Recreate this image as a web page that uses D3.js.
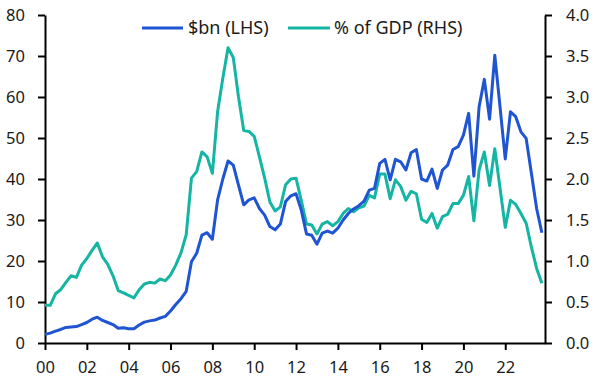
<!DOCTYPE html>
<html>
<head>
<meta charset="utf-8">
<script src="https://cdn.jsdelivr.net/npm/d3@7"></script>
<style>
  body { margin: 0; background: #fff; }
  svg { display: block; }
  text { font-family: "Noto Sans", "Open Sans", sans-serif; fill: #1a1a1a; }
</style>
</head>
<body>
<svg id="chart" width="597" height="382"></svg>
<script>
// Quarterly observations, first at 2000.0, step 0.25 year
const startYear = 2000;
const usdBn = [2.1, 2.4, 2.9, 3.3, 3.8, 3.9, 4.0, 4.5, 5.0, 5.8, 6.3, 5.5, 5.0, 4.5, 3.6, 3.7, 3.5, 3.5, 4.4, 5.1, 5.4, 5.6, 6.1, 6.5, 7.8,
  9.4, 10.8, 12.6, 19.8, 21.9, 26.3, 26.9, 25.3, 34.9, 40.0, 44.4, 43.4, 38.5, 33.7, 34.9, 35.4, 32.8, 31.2, 28.4, 27.6, 29.0, 34.5, 35.9, 36.4,
  32.4, 26.6, 26.3, 24.1, 26.8, 27.3, 26.8, 28.0, 30.0, 31.6, 32.7, 33.5, 34.6, 37.3, 37.7, 43.8, 44.8, 39.8, 44.8, 44.2, 42.2, 46.4, 47.2,
  40.0, 39.5, 42.4, 37.7, 42.2, 43.4, 47.2, 47.9, 50.7, 56.0, 40.7, 57.6, 64.3, 54.6, 70.2, 57.6, 44.9, 56.4, 55.2, 51.5, 49.9, 41.4, 32.8, 26.9];
const pctGdp = [0.46, 0.46, 0.60, 0.65, 0.74, 0.82, 0.80, 0.95, 1.03, 1.13, 1.22, 1.05, 0.96, 0.82, 0.64, 0.61, 0.58, 0.55, 0.65, 0.72, 0.74, 0.73, 0.78, 0.76, 0.83,
  0.95, 1.10, 1.32, 2.01, 2.09, 2.33, 2.27, 2.07, 2.82, 3.23, 3.60, 3.48, 3.00, 2.59, 2.58, 2.52, 2.27, 2.01, 1.72, 1.61, 1.66, 1.93, 2.00, 2.01,
  1.74, 1.45, 1.44, 1.33, 1.45, 1.48, 1.43, 1.48, 1.58, 1.64, 1.60, 1.65, 1.67, 1.80, 1.77, 2.06, 2.06, 1.76, 1.99, 1.91, 1.74, 1.85, 1.82,
  1.51, 1.47, 1.58, 1.40, 1.54, 1.57, 1.70, 1.70, 1.80, 2.03, 1.49, 2.11, 2.33, 1.92, 2.37, 1.89, 1.41, 1.74, 1.69, 1.58, 1.46, 1.17, 0.91, 0.73];
const xTickYears = [2000, 2002, 2004, 2006, 2008, 2010, 2012, 2014, 2016, 2018, 2020, 2022];
const leftTicks = [0, 10, 20, 30, 40, 50, 60, 70, 80];
const rightTicks = [0, 0.5, 1.0, 1.5, 2.0, 2.5, 3.0, 3.5, 4.0];
const seriesNames = ["$bn (LHS)", "% of GDP (RHS)"];
const colors = ["#1f54d2", "#14b5a2"];

const svg = d3.select("#chart");
const L = 45, R = 545, T = 15, B = 343;

const x = d3.scaleLinear().domain([2000, 2023.9]).range([L, R]);
const yL = d3.scaleLinear().domain([0, 80]).range([B, T]);
const yR = d3.scaleLinear().domain([0, 4]).range([B, T]);

const dates = usdBn.map((_, i) => startYear + i / 4);

// axes
const axisStyle = g => {
  g.selectAll("path").attr("stroke", "#000").attr("stroke-width", 2);
  g.selectAll("line").attr("stroke", "#000").attr("stroke-width", 2);
  g.selectAll("text").style("font-size", "16.5px").attr("fill", "#1a1a1a");
};

svg.append("g").attr("transform", `translate(${L},0)`)
  .call(d3.axisLeft(yL).tickValues(leftTicks).tickSize(7).tickPadding(13).tickSizeOuter(0))
  .call(axisStyle);

svg.append("g").attr("transform", `translate(${R},0)`)
  .call(d3.axisRight(yR).tickValues(rightTicks).tickFormat(d3.format(".1f")).tickSize(7).tickPadding(14).tickSizeOuter(0))
  .call(axisStyle);

svg.append("g").attr("transform", `translate(0,${B})`)
  .call(d3.axisBottom(x).tickValues(xTickYears).tickFormat(d => String(d % 100).padStart(2, "0")).tickSize(7).tickPadding(11.5).tickSizeOuter(0))
  .call(axisStyle);

// lines
const lineL = d3.line().x((d, i) => x(dates[i])).y(d => yL(d));
const lineR = d3.line().x((d, i) => x(dates[i])).y(d => yR(d));

svg.append("path").datum(pctGdp).attr("d", lineR)
  .attr("fill", "none").attr("stroke", colors[1]).attr("stroke-width", 3).attr("stroke-linejoin", "round");
svg.append("path").datum(usdBn).attr("d", lineL)
  .attr("fill", "none").attr("stroke", colors[0]).attr("stroke-width", 3).attr("stroke-linejoin", "round");

// legend
const legend = [
  { name: seriesNames[0], color: colors[0], x0: 142, x1: 183, tx: 188 },
  { name: seriesNames[1], color: colors[1], x0: 288, x1: 330, tx: 334 }
];
legend.forEach(d => {
  svg.append("line").attr("x1", d.x0).attr("x2", d.x1).attr("y1", 28).attr("y2", 28)
    .attr("stroke", d.color).attr("stroke-width", 3);
  svg.append("text").attr("x", d.tx).attr("y", 28).attr("dy", "0.35em")
    .style("font-size", "18px").text(d.name);
});
</script>
</body>
</html>
